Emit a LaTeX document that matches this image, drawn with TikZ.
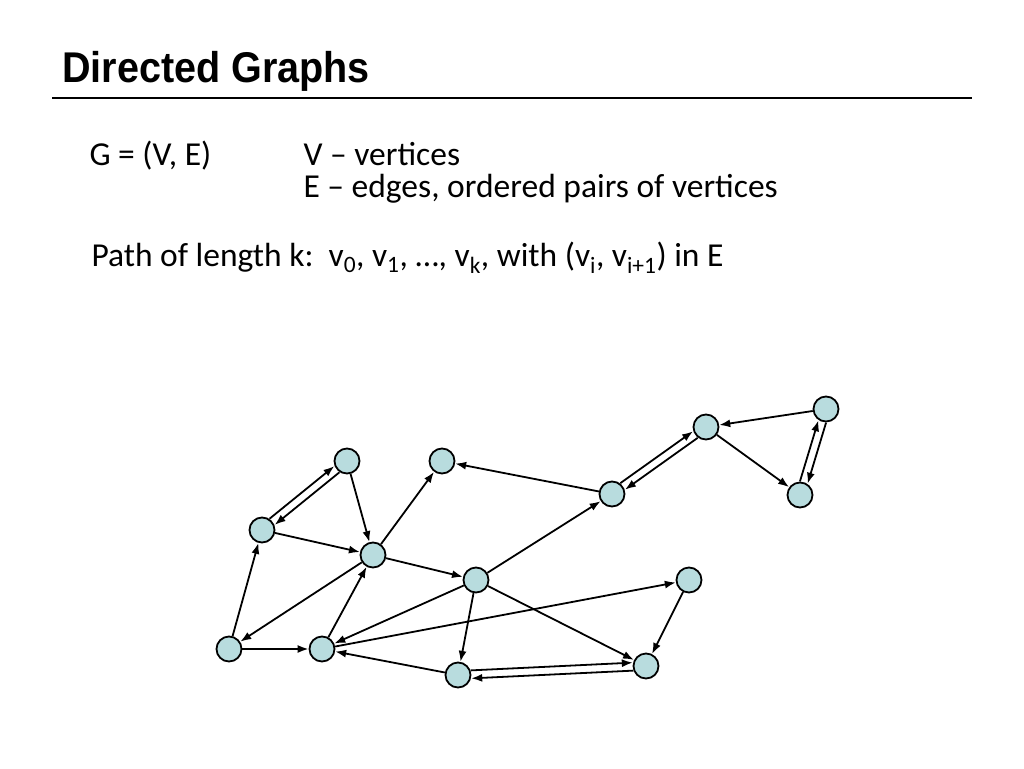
\documentclass[tikz,border=0pt]{standalone}
\usepackage{fontspec}
\setmainfont{Carlito}
\newfontfamily\titlefont{Liberation Sans}
\usetikzlibrary{arrows.meta,calc}
\begin{document}
\begin{tikzpicture}[x=1pt,y=-1pt,
  v/.style={circle,draw,line width=1.8pt,fill={rgb,255:red,184;green,220;blue,222},minimum size=25pt,inner sep=0pt},
  e/.style={-{Latex[length=11pt,width=8pt]},line width=1.8pt},
  dbl/.style={e,shorten >=13pt,shorten <=13pt},
  txt/.style={anchor=base west,font=\fontsize{33.5}{38}\selectfont}]
\useasboundingbox (0,0) rectangle (1024,768);
\node[anchor=base west,inner sep=0pt,font=\titlefont\bfseries\fontsize{43}{48}\selectfont] (title) at (62,82) {\scalebox{0.92}[1]{Directed Graphs}};
\draw[line width=2pt] (52,98) -- (972,98);
\node[txt] (t1) at (86,165) {G = (V, E)};
\node[txt] (t2) at (300,165) {V -- vertices};
\node[txt] (t3) at (300,197) {E -- edges, ordered pairs of vertices};
\node[txt] (t4) at (88,266) {Path of length k:\ \ v\textsubscript{0}, v\textsubscript{1}, \ldots, v\textsubscript{k}, with (v\textsubscript{i}, v\textsubscript{i+1}) in E};
\node[v] (A) at (347,461) {};
\node[v] (B) at (442,461) {};
\node[v] (C) at (262,530) {};
\node[v] (D) at (373,555) {};
\node[v] (E) at (476,580) {};
\node[v] (F) at (229,649) {};
\node[v] (G) at (322,649) {};
\node[v] (H) at (458,675) {};
\node[v] (I) at (646,666) {};
\node[v] (J) at (689,580) {};
\node[v] (K) at (612,494) {};
\node[v] (L) at (706,427) {};
\node[v] (M) at (826,409) {};
\node[v] (N) at (800,495) {};
\draw[e] (A) -- (D);
\draw[e] (C) -- (D);
\draw[e] (D) -- (B);
\draw[e] (F) -- (C);
\draw[e] (D) -- (F);
\draw[e] (F) -- (G);
\draw[e] (G) -- (D);
\draw[e] (D) -- (E);
\draw[e] (E) -- (G);
\draw[e] (E) -- (K);
\draw[e] (K) -- (B);
\draw[e] (M) -- (L);
\draw[e] (L) -- (N);
\draw[e] (E) -- (H);
\draw[e] (E) -- (I);
\draw[e] (G) -- (J);
\draw[e] (J) -- (I);
\draw[e] (H) -- (G);
\foreach \a/\b in {A/C,C/A,K/L,L/K,M/N,N/M,H/I,I/H}
  \draw[dbl] ($(\a.center)!4pt!90:(\b.center)$) -- ($(\b.center)!4pt!-90:(\a.center)$);
\end{tikzpicture}
\end{document}
